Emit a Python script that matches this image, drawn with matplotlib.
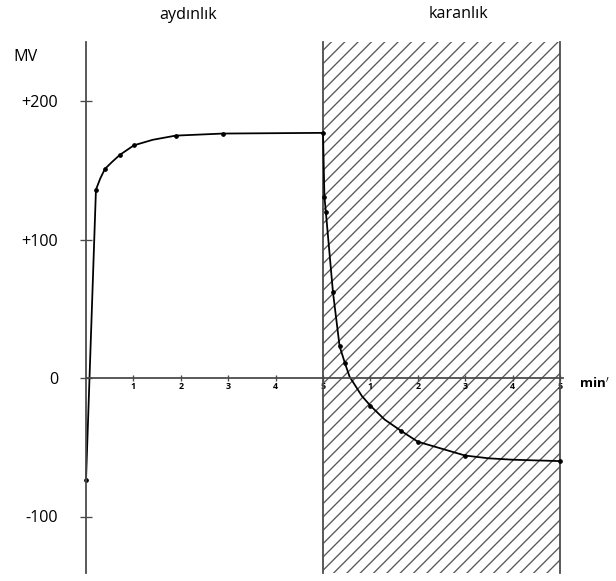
import matplotlib.pyplot as plt
import numpy as np

plt.rcParams['font.family'] = ['Open Sans', 'DejaVu Sans']
plt.rcParams['hatch.linewidth'] = 1.2

# light phase (aydinlik) - curve, dots where marked
light_t = [0, 0.21, 0.30, 0.40, 0.55, 0.71, 1.01, 1.41, 1.89, 2.89, 5.0]
light_v = [-74, 136, 144, 151, 156, 161, 168, 172, 175, 176.5, 177]
light_dot_t = [0, 0.21, 0.40, 0.71, 1.01, 1.89, 2.89, 5.0]
light_dot_v = [-74, 136, 151, 161, 168, 175, 176.5, 177]

# dark phase (karanlik)
dark_t = [5.0, 5.03, 5.06, 5.21, 5.35, 5.46, 5.56, 5.82, 6.0, 6.3, 6.64, 7.0, 7.5, 8.0, 8.5, 9.0, 10.0]
dark_v = [177, 131, 120, 62, 23, 11, 1, -13, -20, -30, -38, -46, -51, -56, -58, -59, -60]
dark_dot_t = [5.03, 5.06, 5.21, 5.35, 5.46, 6.0, 6.64, 7.0, 8.0, 10.0]
dark_dot_v = [131, 120, 62, 23, 11, -20, -38, -46, -56, -60]

xticks = [1, 2, 3, 4, 5, 6, 7, 8, 9, 10]
xtick_labels = ['1', '2', '3', '4', '5', '1', '2', '3', '4', '5']
yticks = [-100, 0, 100, 200]
ytick_labels = ['-100', '0', '+100', '+200']

W, H = 616, 581
fig = plt.figure(figsize=(W / 80, H / 80), dpi=80)
ax = fig.add_axes([0, 0, 1, 1])

# pixel layout of the original drawing
x0, xu = 86, 47.4      # px of t=0, px per minute
y0, yu = 378, 1.385    # px of 0 mV, px per mV
ax.set_xlim(-x0 / xu, (W - x0) / xu)
ax.set_ylim((y0 - H) / yu, y0 / yu)

top = (y0 - 42) / yu
bot = (y0 - 573) / yu
fr_lo, fr_hi = 8 / H, 539 / H

axis_col = '#4a4a4a'
for s in ['top', 'right']:
    ax.spines[s].set_visible(False)
ax.spines['left'].set_position(('data', 0))
ax.spines['bottom'].set_position(('data', 0))
ax.spines['left'].set_bounds(bot, top)
ax.spines['bottom'].set_bounds(0, (563 - x0) / xu)
for s in ['left', 'bottom']:
    ax.spines[s].set_color(axis_col)
    ax.spines[s].set_linewidth(1.6)

# dark period hatch
ax.axvspan(5, 10, ymin=fr_lo, ymax=fr_hi, facecolor='none',
           edgecolor='#5a5a5a', hatch='//', lw=0)
ax.axvline(5, ymin=fr_lo, ymax=fr_hi, color=axis_col, lw=1.6)
ax.axvline(10, ymin=fr_lo, ymax=fr_hi, color=axis_col, lw=1.6)

ax.plot(light_t, light_v, color='black', lw=1.6)
ax.plot(dark_t, dark_v, color='black', lw=1.6)
ax.plot(light_dot_t, light_dot_v, 'o', color='black', ms=3.2)
ax.plot(dark_dot_t, dark_dot_v, 'o', color='black', ms=3.2)

ax.set_xticks(xticks)
ax.set_xticklabels(xtick_labels, fontweight='bold')
ax.tick_params(axis='x', direction='inout', length=5, width=1.2,
               pad=1, labelsize=8, color=axis_col)
ax.set_yticks(yticks)
ax.set_yticklabels(ytick_labels)
ax.tick_params(axis='y', direction='inout', length=10, width=1.2,
               pad=20, labelsize=14.5, color=axis_col)

fig.text(13 / W, 1 - 57 / H, 'MV', fontsize=14.5, va='center', ha='left')
fig.text(188 / W, 1 - 15 / H, 'aydınlık', fontsize=14.5, ha='center', va='center')
fig.text(459 / W, 1 - 14 / H, 'karanlık', fontsize=14.5, ha='center', va='center')
fig.text(579 / W, 1 - 384 / H, r'min$^{\prime}$', fontsize=12,
         fontweight='bold', ha='left', va='center')

fig.savefig('out.png', dpi=80)
